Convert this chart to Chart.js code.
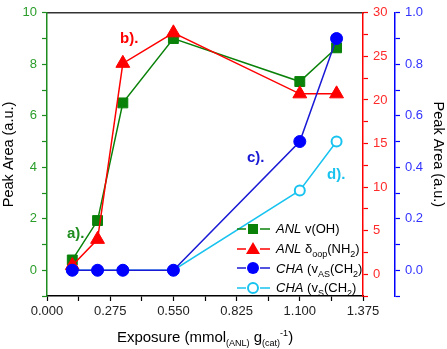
<!DOCTYPE html>
<html>
<head>
<meta charset="utf-8">
<script src="https://cdn.jsdelivr.net/npm/chart.js@4.4.1/dist/chart.umd.min.js"></script>
<style>
    body { margin: 0; background: #fff; font-family: "Liberation Sans", Arial, sans-serif; }
    #wrap { position: relative; width: 447px; height: 349px; }
    #chart { position: absolute; left: 0; top: 0; }
    .note { position: absolute; font-weight: bold; font-size: 15px; line-height: 17px; }
    #xtitle { position: absolute; left: 47px; width: 316px; top: 328px; text-align: center; font-size: 15px; line-height: 17px; }
    #legend { position: absolute; left: 237px; top: 219px; font-size: 13px; }
    .row { height: 19.7px; display: flex; align-items: center; white-space: nowrap; }
    .row svg { margin-right: 6px; }
    sub, sup { font-size: 9px; line-height: 0; }
</style>
</head>
<body>
<div id="wrap">
    <canvas id="chart" width="447" height="349"></canvas>
    <div id="xtitle">Exposure (mmol<sub>(ANL)</sub> g<sub>(cat)</sub><sup>-1</sup>)</div>
    <div class="note" style="left:67px; top:224px; color:#1e8c1e;">a).</div>
    <div class="note" style="left:120px; top:29px; color:#ff0000;">b).</div>
    <div class="note" style="left:247px; top:148px; color:#1a1ad6;">c).</div>
    <div class="note" style="left:327px; top:165px; color:#19c3ef;">d).</div>
    <div id="legend"></div>
</div>
<script>
// 曝露量 (x) 與各系列的峰面積
const exposure = [0.11, 0.22, 0.33, 0.55, 1.1, 1.26];
const anlOH = [0.4, 1.93, 6.5, 9.0, 7.33, 8.64];      // 左軸
const anlNH2 = [1.0, 4.0, 24.2, 27.7, 20.7, 20.7];    // 紅色右軸
const chaAS = [0, 0, 0, 0, 0.5, 0.9];                 // 藍色右軸
const chaS = [0, 0, 0, 0, 0.31, 0.5];                 // 藍色右軸

// 刻度標籤
const xLabels = ['0.000', '0.275', '0.550', '0.825', '1.100', '1.375'];
const leftLabels = ['0', '2', '4', '6', '8', '10'];
const redLabels = ['0', '5', '10', '15', '20', '25', '30'];
const blueLabels = ['0.0', '0.2', '0.4', '0.6', '0.8', '1.0'];

const GREEN = '#0a820a';
const GREEN_AXIS = '#1e8c1e';
const RED = '#ff0000';
const BLUE = '#0000ff';
const BLUE_LINE = '#1a1ad6';
const CYAN = '#19c3ef';

function points(ys) {
    return exposure.map((x, i) => ({ x: x, y: ys[i] }));
}

// 只顯示主刻度的文字
function pick(labels, fmt) {
    return function (value) {
        const s = fmt(value);
        return labels.includes(s) ? s : '';
    };
}

const tickFont = { family: 'Liberation Sans', size: 13 };
const titleFont = { family: 'Liberation Sans', size: 14.5 };

new Chart(document.getElementById('chart'), {
    type: 'line',
    data: {
        datasets: [
            {
                label: 'ANL v(OH)', data: points(anlOH), yAxisID: 'y',
                borderColor: GREEN, backgroundColor: GREEN, borderWidth: 1.5,
                pointStyle: 'rect', pointRadius: 7, pointBorderWidth: 1, order: 4
            },
            {
                label: 'ANL δoop(NH2)', data: points(anlNH2), yAxisID: 'yRed',
                borderColor: RED, backgroundColor: RED, borderWidth: 1.5,
                pointStyle: 'triangle', pointRadius: 8, pointBorderWidth: 1, order: 3
            },
            {
                label: 'CHA (vAS(CH2)', data: points(chaAS), yAxisID: 'yBlue',
                borderColor: BLUE_LINE, backgroundColor: BLUE, pointBorderColor: BLUE, borderWidth: 1.5,
                pointStyle: 'circle', pointRadius: 6, pointBorderWidth: 1, order: 1
            },
            {
                label: 'CHA (vS(CH2)', data: points(chaS), yAxisID: 'yBlue',
                borderColor: CYAN, backgroundColor: '#ffffff', borderWidth: 1.5,
                pointStyle: 'circle', pointRadius: 5, pointBorderWidth: 2, order: 2
            }
        ]
    },
    options: {
        responsive: false,
        animation: false,
        layout: { padding: 0 },
        elements: { line: { tension: 0 } },
        plugins: { legend: { display: false }, tooltip: { enabled: false } },
        scales: {
            x: {
                type: 'linear', position: 'bottom', min: 0, max: 1.375,
                ticks: {
                    stepSize: 0.1375, autoSkip: false, maxRotation: 0,
                    callback: pick(xLabels, v => v.toFixed(3)),
                    color: '#222', font: tickFont, padding: 3
                },
                grid: { drawOnChartArea: false, tickLength: 5, color: '#000', tickWidth: 1.2 },
                border: { color: '#000', width: 1.5 },
                afterFit: s => { s.height = 53; }
            },
            xTop: {
                type: 'linear', position: 'top', min: 0, max: 1.375,
                ticks: { display: false },
                grid: { drawOnChartArea: false, drawTicks: false },
                border: { color: '#333', width: 1.5 },
                afterFit: s => { s.height = 7; }
            },
            y: {
                type: 'linear', position: 'left', min: -1, max: 10,
                ticks: {
                    stepSize: 1, callback: pick(leftLabels, v => String(Math.round(v))),
                    color: '#2a9d2a', font: tickFont, padding: 5
                },
                grid: { drawOnChartArea: false, tickLength: 5, color: GREEN_AXIS, tickWidth: 1.2 },
                border: { color: GREEN_AXIS, width: 1.5 },
                title: { display: true, text: 'Peak Area (a.u.)', color: '#000', font: titleFont, padding: 0 },
                afterFit: s => { s.width = 47; }
            },
            yRed: {
                type: 'linear', position: 'right', min: -2.5, max: 30,
                ticks: {
                    stepSize: 2.5, callback: pick(redLabels, v => String(Math.round(v * 10) / 10)),
                    color: '#ff2a2a', font: tickFont, padding: 5
                },
                grid: { drawOnChartArea: false, tickLength: 5, color: RED, tickWidth: 1.2 },
                border: { color: RED, width: 1.5 },
                afterFit: s => { s.width = 32; }
            },
            yBlue: {
                type: 'linear', position: 'right', min: -0.1, max: 1.0,
                ticks: {
                    stepSize: 0.1, callback: pick(blueLabels, v => (Math.round(v * 10) / 10).toFixed(1)),
                    color: '#3333ff', font: tickFont, padding: 5
                },
                grid: { drawOnChartArea: false, tickLength: 5, color: BLUE, tickWidth: 1.2 },
                border: { color: BLUE, width: 1.5 },
                title: { display: true, text: 'Peak Area (a.u.)', color: '#000', font: titleFont, padding: 0 },
                afterFit: s => { s.width = 52; }
            }
        }
    }
});

// 圖例（含上下標，用 HTML 寫）
const legendItems = [
    { color: GREEN, marker: 'rect', html: '<i>ANL</i> v(OH)' },
    { color: RED, marker: 'tri', html: '<i>ANL</i> δ<sub>oop</sub>(NH<sub>2</sub>)' },
    { color: BLUE_LINE, fill: BLUE, marker: 'dot', html: '<i>CHA</i> (v<sub>AS</sub>(CH<sub>2</sub>)' },
    { color: CYAN, marker: 'ring', html: '<i>CHA</i> (v<sub>S</sub>(CH<sub>2</sub>)' }
];

const legend = document.getElementById('legend');
legendItems.forEach(item => {
    const fill = item.fill || item.color;
    let shape = '';
    if (item.marker === 'rect') shape = `<rect x="11" y="2" width="10" height="10" fill="${fill}"/>`;
    if (item.marker === 'tri') shape = `<polygon points="16,0 23,12 9,12" fill="${fill}"/>`;
    if (item.marker === 'dot') shape = `<circle cx="16" cy="7" r="6" fill="${fill}"/>`;
    if (item.marker === 'ring') shape = `<circle cx="16" cy="7" r="5" fill="#fff" stroke="${fill}" stroke-width="2"/>`;
    const row = document.createElement('div');
    row.className = 'row';
    row.innerHTML = `<svg width="33" height="14">
        <line x1="0" y1="7" x2="9" y2="7" stroke="${item.color}" stroke-width="1.5"/>
        <line x1="23" y1="7" x2="33" y2="7" stroke="${item.color}" stroke-width="1.5"/>
        ${shape}</svg><span>${item.html}</span>`;
    legend.appendChild(row);
});
</script>
</body>
</html>
